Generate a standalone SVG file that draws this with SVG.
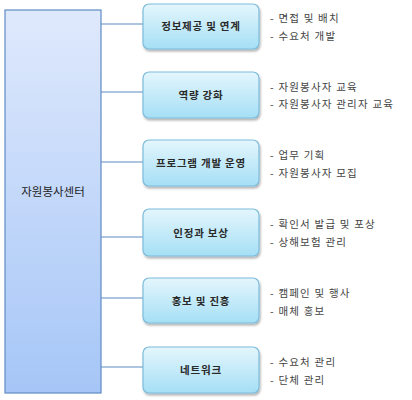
<svg xmlns="http://www.w3.org/2000/svg" width="412" height="400" viewBox="0 0 412 400">
<defs>
<linearGradient id="gMain" x1="0" y1="0" x2="0" y2="1">
<stop offset="0" stop-color="#dfe9fc"/>
<stop offset="1" stop-color="#a6c6f7"/>
</linearGradient>
<linearGradient id="gBox" x1="0" y1="0" x2="0" y2="1">
<stop offset="0" stop-color="#e4f6fd"/>
<stop offset="1" stop-color="#a5dff5"/>
</linearGradient>
<filter id="sh" x="-10%" y="-10%" width="130%" height="140%">
<feDropShadow dx="1" dy="2" stdDeviation="1.2" flood-color="#000" flood-opacity="0.3"/>
</filter>
</defs>
<style>
.main{fill:url(#gMain);stroke:#5f8bc4;stroke-width:1.2}
.box{fill:url(#gBox);stroke:#7cbcdc;stroke-width:1.2;filter:url(#sh)}
.conn{stroke:#5f8bc4;stroke-width:1.2;fill:none}
.t{font-family:"Noto Sans CJK KR","Noto Sans",sans-serif;fill:#222}
.lbl{font-size:10.5px;font-weight:bold;text-anchor:middle;letter-spacing:0.8px;fill:#2a2a2a}
.item{font-size:10.5px;fill:#444;letter-spacing:1.2px}
</style>
<g id="connectors">
<line class="conn" x1="101" y1="24" x2="143" y2="24"/>
<line class="conn" x1="101" y1="92" x2="143" y2="92"/>
<line class="conn" x1="101" y1="162" x2="143" y2="162"/>
<line class="conn" x1="101" y1="237" x2="143" y2="237"/>
<line class="conn" x1="101" y1="298" x2="143" y2="298"/>
<line class="conn" x1="101" y1="367" x2="143" y2="367"/>
</g>
<g id="center">
<rect class="main" x="5" y="10" width="96" height="383"/>
<text class="t" x="53" y="196" font-size="11.5" text-anchor="middle">자원봉사센터</text>
</g>
<g id="n1">
<rect class="box" x="143" y="4" width="116" height="45" rx="6"/>
<text class="t lbl" x="201" y="30">정보제공 및 연계</text>
<text class="t item" x="270" y="22">- 면접 및 배치</text>
<text class="t item" x="270" y="40">- 수요처 개발</text>
</g>
<g id="n2">
<rect class="box" x="143" y="72" width="116" height="46" rx="6"/>
<text class="t lbl" x="201" y="99">역량 강화</text>
<text class="t item" x="270" y="91">- 자원봉사자 교육</text>
<text class="t item" x="270" y="108">- 자원봉사자 관리자 교육</text>
</g>
<g id="n3">
<rect class="box" x="143" y="140" width="116" height="46" rx="6"/>
<text class="t lbl" x="201" y="167">프로그램 개발 운영</text>
<text class="t item" x="270" y="159">- 업무 기획</text>
<text class="t item" x="270" y="177">- 자원봉사자 모집</text>
</g>
<g id="n4">
<rect class="box" x="143" y="209" width="116" height="47" rx="6"/>
<text class="t lbl" x="201" y="237">인정과 보상</text>
<text class="t item" x="270" y="228">- 확인서 발급 및 포상</text>
<text class="t item" x="270" y="246">- 상해보험 관리</text>
</g>
<g id="n5">
<rect class="box" x="143" y="278" width="116" height="45" rx="6"/>
<text class="t lbl" x="201" y="305">홍보 및 진흥</text>
<text class="t item" x="270" y="297">- 캠페인 및 행사</text>
<text class="t item" x="270" y="315">- 매체 홍보</text>
</g>
<g id="n6">
<rect class="box" x="143" y="347" width="116" height="46" rx="6"/>
<text class="t lbl" x="201" y="374">네트워크</text>
<text class="t item" x="270" y="366">- 수요처 관리</text>
<text class="t item" x="270" y="384">- 단체 관리</text>
</g>
</svg>
